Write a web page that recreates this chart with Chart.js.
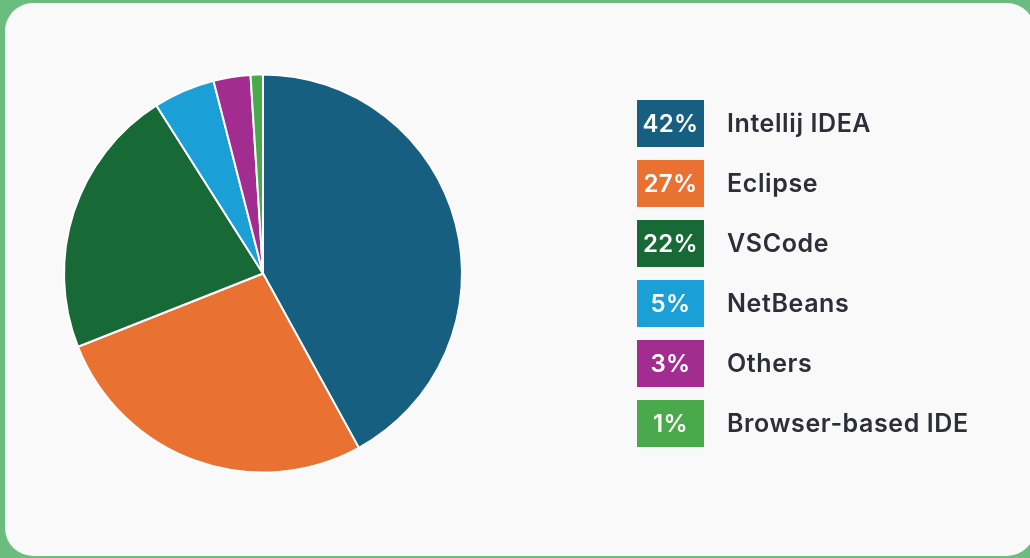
<!DOCTYPE html>
<html>
<head>
<meta charset="utf-8">
<script src="https://cdn.jsdelivr.net/npm/chart.js@4"></script>
<style>
  html, body { margin: 0; padding: 0; width: 1030px; height: 558px; overflow: hidden; background: #6abd7f; }
  .card { position: absolute; left: 5px; top: 3px; width: 1030px; height: 553px; background: #f9f9f9; border-radius: 28px; }
  #ideChart { position: absolute; left: 0; top: 0; }
</style>
</head>
<body>
<div class="card"></div>
<canvas id="ideChart" width="1030" height="558"></canvas>
<script>
// IDE usage share
var labels = ["Intellij IDEA", "Eclipse", "VSCode", "NetBeans", "Others", "Browser-based IDE"];
var shares = [42, 27, 22, 5, 3, 1];
var colors = ["#165f80", "#e97232", "#176a35", "#1a9fd6", "#a22c90", "#4aaa4b"];

// legend drawn on the canvas, boxes with the percentage inside
var sideLegend = {
    id: 'sideLegend',
    afterDraw: function (chart) {
        var ctx = chart.ctx;
        var x = 637, y = 100, w = 67, h = 47, gap = 60;
        ctx.save();
        ctx.textBaseline = 'middle';
        for (var i = 0; i < labels.length; i++) {
            var top = y + i * gap;
            ctx.fillStyle = colors[i];
            ctx.fillRect(x, top, w, h);
            ctx.fillStyle = '#ffffff';
            ctx.font = '600 24px Inter';
            ctx.letterSpacing = '0.3px';
            ctx.textAlign = 'center';
            ctx.fillText(shares[i] + '%', x + w / 2, top + h / 2 + 1);
            ctx.fillStyle = '#2e2e38';
            ctx.textAlign = 'left';
            ctx.font = '600 25px Inter';
            ctx.letterSpacing = '0.6px';
            ctx.fillText(labels[i], 727, top + h / 2 + 1);
        }
        ctx.restore();
    }
};

var ideChart = new Chart(document.getElementById("ideChart"), {
    type: 'pie',
    data: {
        labels: labels,
        datasets: [{
            data: shares,
            backgroundColor: colors,
            borderColor: '#ffffff',
            borderWidth: 2
        }]
    },
    options: {
        responsive: false,
        animation: false,
        layout: { padding: { left: 63, top: 73, right: 567, bottom: 84 } },
        plugins: {
            legend: { display: false },
            tooltip: { enabled: false }
        }
    },
    plugins: [sideLegend]
});
</script>
</body>
</html>
